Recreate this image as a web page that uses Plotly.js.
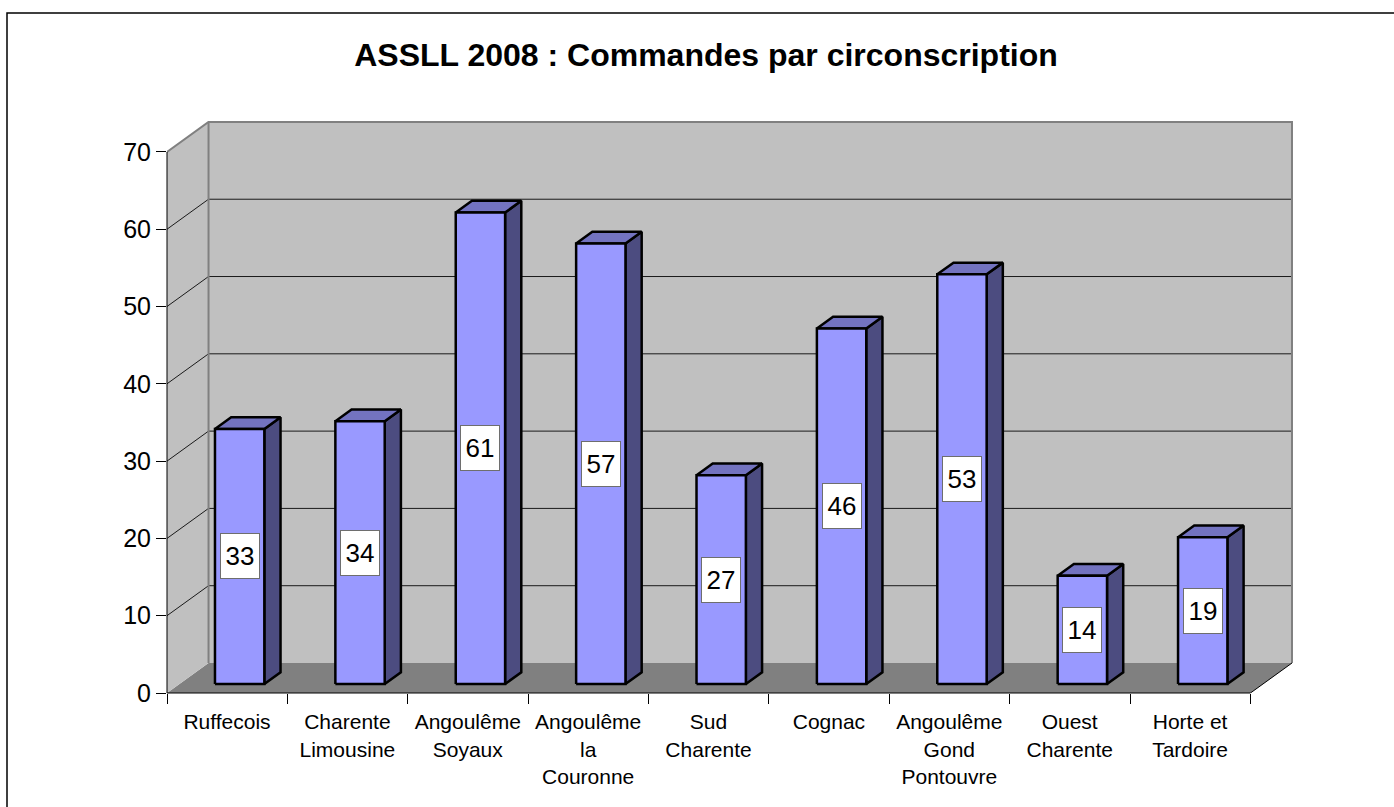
<!DOCTYPE html>
<html>
<head>
<meta charset="utf-8">
<script src="https://cdn.plot.ly/plotly-3.0.1.min.js"></script>
<style>html,body{margin:0;padding:0;background:#fff;}#chart{width:1394px;height:807px;}</style>
</head>
<body>
<div id="chart"></div>
<script>
// ---- data ----
const chartTitle = 'ASSLL 2008 : Commandes par circonscription';
const categories = ['Ruffecois', 'Charente<br>Limousine', 'Angoulême<br>Soyaux', 'Angoulême<br>la<br>Couronne', 'Sud<br>Charente', 'Cognac', 'Angoulême<br>Gond<br>Pontouvre', 'Ouest<br>Charente', 'Horte et<br>Tardoire'];
const values = [33, 34, 61, 57, 27, 46, 53, 14, 19];
const yTicks = [0, 10, 20, 30, 40, 50, 60, 70];

// ---- 3D projection settings (style) ----
const DX = 0.345;   // depth offset in category units
const DY = 3.88;    // depth offset in value units
const D0 = 0.30, D1 = 0.69; // bar depth span (fraction of full depth)
const BW = 0.41;    // bar width in category units
const yMax = yTicks[yTicks.length - 1];
const n = categories.length;
const xL = -0.5, xR = n - 0.5;

const FRONT = '#9999ff', TOP = '#7373c0', SIDE = '#4c4c80';

const traces = [];
function poly(pts, fill) {
  traces.push({
    type: 'scatter', mode: 'lines', fill: 'toself', fillcolor: fill,
    x: pts.map(p => p[0]).concat([pts[0][0]]),
    y: pts.map(p => p[1]).concat([pts[0][1]]),
    line: {color: '#000', width: 2.5},
    hoverinfo: 'skip', showlegend: false
  });
}
const annotations = [];
values.forEach((v, i) => {
  const a = i - BW / 2, b = i + BW / 2;
  const fx0 = a + D0 * DX, fx1 = b + D0 * DX, fy0 = D0 * DY, fy1 = v + D0 * DY;
  const bx1 = b + D1 * DX, by0 = D1 * DY, by1 = v + D1 * DY, bx0 = a + D1 * DX;
  poly([[fx1, fy0], [bx1, by0], [bx1, by1], [fx1, fy1]], SIDE);
  poly([[fx0, fy1], [fx1, fy1], [bx1, by1], [bx0, by1]], TOP);
  poly([[fx0, fy0], [fx1, fy0], [fx1, fy1], [fx0, fy1]], FRONT);
  annotations.push({
    x: (fx0 + fx1) / 2, y: v / 2 + D0 * DY, xref: 'x', yref: 'y',
    text: String(v), showarrow: false, width: 30, height: 36, valign: 'middle', align: 'center',
    font: {family: 'Liberation Sans, Arial, sans-serif', size: 26, color: '#000'},
    bgcolor: '#ffffff', bordercolor: '#6e6e6e', borderwidth: 1, borderpad: 4
  });
});

// ---- walls, floor, gridlines ----
const shapes = [];
shapes.push({type: 'path', layer: 'below', xref: 'x', yref: 'y',
  path: `M${xL},0 L${xR},0 L${xR + DX},${DY} L${xL + DX},${DY} Z`,
  fillcolor: '#808080', line: {width: 0}});
shapes.push({type: 'rect', layer: 'below', xref: 'x', yref: 'y',
  x0: xL + DX, x1: xR + DX, y0: DY, y1: yMax + DY,
  fillcolor: '#c0c0c0', line: {width: 0}});
shapes.push({type: 'path', layer: 'below', xref: 'x', yref: 'y',
  path: `M${xL},0 L${xL + DX},${DY} L${xL + DX},${yMax + DY} L${xL},${yMax} Z`,
  fillcolor: '#c0c0c0', line: {width: 0}});
yTicks.slice(1, -1).forEach(t => {
  shapes.push({type: 'line', layer: 'below', xref: 'x', yref: 'y',
    x0: xL + DX, x1: xR + DX, y0: t + DY, y1: t + DY, line: {color: '#1a1a1a', width: 1}});
  shapes.push({type: 'line', layer: 'below', xref: 'x', yref: 'y',
    x0: xL, x1: xL + DX, y0: t, y1: t + DY, line: {color: '#1a1a1a', width: 1}});
});
// wall borders
shapes.push({type: 'path', layer: 'below', xref: 'x', yref: 'y',
  path: `M${xL},${yMax} L${xL + DX},${yMax + DY} L${xR + DX},${yMax + DY} L${xR + DX},${DY}`,
  line: {color: '#808080', width: 2}});
shapes.push({type: 'line', layer: 'below', xref: 'x', yref: 'y',
  x0: xL + DX, x1: xL + DX, y0: DY, y1: yMax + DY, line: {color: '#808080', width: 2}});
// floor right edge
shapes.push({type: 'line', layer: 'below', xref: 'x', yref: 'y',
  x0: xR, x1: xR + DX, y0: 0, y1: DY, line: {color: '#000', width: 1}});
// axis lines
shapes.push({type: 'line', layer: 'above', xref: 'paper', yref: 'y',
  x0: 0, x1: 0, y0: 0, y1: yMax, line: {color: '#000', width: 1}});
shapes.push({type: 'line', layer: 'above', xref: 'x', yref: 'paper',
  x0: xL, x1: xR, y0: 0, y1: 0, line: {color: '#000', width: 1}});
// outer frame
shapes.push({type: 'rect', layer: 'above', xref: 'paper', yref: 'paper',
  x0: (7 - 167) / 1128, x1: (1410 - 167) / 1128, y0: (693 - 830) / 572, y1: (693 - 13) / 572,
  line: {color: '#000', width: 1.5}, fillcolor: 'rgba(0,0,0,0)'});

const boundaries = categories.map((c, i) => i - 0.5).concat([n - 0.5]);
const layout = {
  width: 1394, height: 807,
  margin: {l: 167, r: 99, t: 121, b: 114},
  paper_bgcolor: '#ffffff', plot_bgcolor: 'rgba(0,0,0,0)',
  font: {family: 'Liberation Sans, Arial, sans-serif', color: '#000'},
  title: {text: chartTitle, font: {family: 'Liberation Sans, Arial, sans-serif', size: 32, weight: 'bold', color: '#000'},
    xref: 'container', yref: 'container', x: 706 / 1394, xanchor: 'center', y: 1 - 55 / 807, yanchor: 'middle'},
  showlegend: false, hovermode: false,
  xaxis: {range: [xL, xR + DX + 0.025], tickmode: 'array', tickvals: boundaries,
    ticktext: categories.concat(['']), ticklabelshift: 60,
    ticks: 'outside', ticklen: 10, tickcolor: '#000', tickwidth: 1,
    tickfont: {size: 21, color: '#000'}, showgrid: false, zeroline: false, showline: false, fixedrange: true},
  yaxis: {range: [0, 74], tickmode: 'array', tickvals: yTicks, ticktext: yTicks.map(String),
    ticks: 'outside', ticklen: 10, tickcolor: '#000', tickwidth: 1,
    tickfont: {size: 25, color: '#000'}, showgrid: false, zeroline: false, showline: false, fixedrange: true},
  shapes: shapes,
  annotations: annotations
};
Plotly.newPlot('chart', traces, layout, {displayModeBar: false, staticPlot: true});
</script>
</body>
</html>
